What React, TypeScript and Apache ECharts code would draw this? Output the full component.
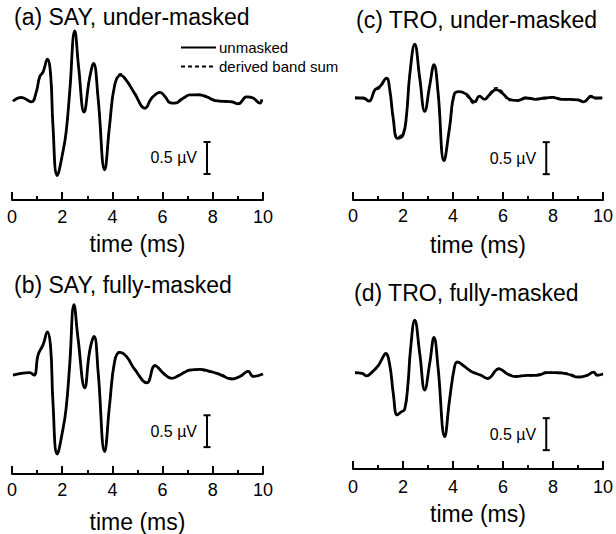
import React, { useEffect, useRef } from "react";
import * as echarts from "echarts";

// ---- waveform data (time in ms, amplitude in µV) ----
const timeSayUnder = [0.04, 0.37, 0.77, 0.97, 1.10, 1.24, 1.41, 1.54, 1.63, 1.80, 2.03, 2.16, 2.30, 2.50, 2.66, 2.87, 3.09, 3.25, 3.43, 3.69, 3.89, 4.09, 4.33, 4.55, 4.89, 5.30, 5.57, 5.90, 6.10, 6.29, 6.49, 6.83, 7.09, 7.42, 7.76, 8.09, 8.42, 8.75, 9.02, 9.35, 9.61, 9.88, 9.95];
const unmaskedSayUnder = [-0.02, 0.04, -0.03, 0.13, 0.36, 0.44, 0.64, 0.39, -0.39, -1.18, -0.81, -0.49, 0.13, 1.08, 0.49, -0.19, 0.34, 0.57, 0.03, -1.09, -0.39, 0.23, 0.39, 0.31, 0.10, -0.13, 0.03, 0.12, 0.05, -0.04, -0.05, 0.03, 0.08, 0.08, 0.05, -0.01, -0.02, -0.03, -0.06, 0.05, 0.03, -0.05, 0.01];
const derivedSayUnder = [-0.01, 0.03, -0.02, 0.12, 0.35, 0.45, 0.63, 0.38, -0.40, -1.17, -0.80, -0.48, 0.14, 1.07, 0.48, -0.18, 0.35, 0.56, 0.02, -1.08, -0.38, 0.24, 0.41, 0.32, 0.11, -0.12, 0.04, 0.11, 0.06, -0.05, -0.04, 0.04, 0.07, 0.09, 0.04, 0.00, -0.03, -0.02, -0.05, 0.06, 0.02, -0.04, 0.00];

const timeSayFull = [0.04, 0.37, 0.70, 0.88, 1.04, 1.24, 1.41, 1.54, 1.63, 1.80, 2.03, 2.16, 2.30, 2.47, 2.63, 2.90, 3.09, 3.27, 3.43, 3.69, 3.89, 4.09, 4.29, 4.55, 4.89, 5.37, 5.70, 6.03, 6.36, 6.76, 7.09, 7.49, 7.89, 8.29, 8.75, 9.08, 9.41, 9.61, 10.0];
const unmaskedSayFull = [-0.01, 0.02, 0.03, -0.01, 0.31, 0.47, 0.67, 0.42, -0.42, -1.25, -0.86, -0.52, 0.16, 1.10, 0.57, -0.21, 0.36, 0.60, 0.05, -1.21, -0.47, 0.21, 0.35, 0.29, 0.08, -0.13, 0.14, 0.02, -0.06, 0.01, 0.07, 0.08, 0.05, 0.00, -0.07, -0.03, 0.05, -0.03, 0.01];
const derivedSayFull = [-0.01, 0.02, 0.02, 0.00, 0.30, 0.48, 0.66, 0.41, -0.43, -1.24, -0.85, -0.51, 0.17, 1.09, 0.56, -0.20, 0.37, 0.59, 0.04, -1.20, -0.46, 0.22, 0.36, 0.28, 0.09, -0.12, 0.15, 0.03, -0.05, 0.02, 0.08, 0.07, 0.04, 0.01, -0.06, -0.04, 0.06, -0.02, 0.01];

const timeTroUnder = [0.08, 0.41, 0.64, 0.88, 1.08, 1.34, 1.47, 1.61, 1.78, 2.00, 2.14, 2.27, 2.47, 2.67, 2.87, 3.07, 3.24, 3.40, 3.64, 3.86, 4.06, 4.26, 4.53, 4.86, 5.06, 5.26, 5.46, 5.73, 5.99, 6.25, 6.59, 6.92, 7.32, 7.65, 7.98, 8.31, 8.65, 8.98, 9.24, 9.51, 9.71, 9.97];
const unmaskedTroUnder = [0.00, 0.00, -0.05, 0.13, 0.18, 0.31, 0.13, -0.32, -0.63, -0.58, -0.27, 0.36, 0.84, 0.31, -0.21, 0.20, 0.52, 0.10, -0.98, -0.47, 0.07, 0.10, 0.06, -0.06, 0.03, -0.02, 0.05, 0.13, 0.07, -0.02, -0.04, 0.00, -0.02, 0.00, 0.01, -0.02, -0.02, -0.03, -0.06, 0.02, 0.00, 0.00];
const derivedTroUnder = [0.01, -0.01, -0.04, 0.11, 0.16, 0.30, 0.12, -0.34, -0.61, -0.54, -0.25, 0.37, 0.83, 0.30, -0.19, 0.21, 0.51, 0.07, -0.97, -0.49, 0.05, 0.11, 0.04, -0.09, 0.02, -0.03, 0.07, 0.16, 0.09, -0.04, -0.03, 0.01, -0.01, -0.01, 0.02, -0.01, -0.03, -0.02, -0.05, 0.04, -0.01, 0.01];

const timeTroFull = [0.08, 0.35, 0.55, 0.74, 1.01, 1.14, 1.31, 1.47, 1.61, 1.77, 1.94, 2.07, 2.20, 2.30, 2.47, 2.67, 2.87, 3.07, 3.24, 3.40, 3.67, 3.86, 4.06, 4.17, 4.39, 4.73, 5.11, 5.38, 5.84, 6.18, 6.51, 6.97, 7.37, 7.77, 8.17, 8.57, 9.03, 9.36, 9.63, 9.76, 10.0];
const unmaskedTroFull = [0.02, 0.01, -0.03, 0.02, 0.13, 0.22, 0.32, 0.14, -0.30, -0.64, -0.59, -0.55, -0.15, 0.38, 0.84, 0.32, -0.25, 0.17, 0.57, 0.11, -0.98, -0.41, 0.11, 0.19, 0.14, 0.04, -0.02, -0.07, 0.08, 0.00, -0.04, -0.02, -0.02, 0.02, 0.02, 0.00, -0.05, -0.02, 0.03, -0.02, 0.00];
const derivedTroFull = [0.01, 0.02, -0.02, 0.03, 0.12, 0.23, 0.31, 0.13, -0.31, -0.63, -0.58, -0.54, -0.16, 0.37, 0.83, 0.31, -0.24, 0.18, 0.56, 0.10, -0.97, -0.42, 0.12, 0.18, 0.13, 0.05, -0.01, -0.06, 0.09, 0.01, -0.03, -0.03, -0.01, 0.03, 0.01, 0.01, -0.04, -0.03, 0.04, -0.01, 0.01];

// panel titles, in panel order (a), (b), (c), (d)
const panelTitles = ["(a) SAY, under-masked", "(b) SAY, fully-masked", "(c) TRO, under-masked", "(d) TRO, fully-masked"];
const xTicks = [0, 2, 4, 6, 8, 10];
const xAxisName = "time (ms)";
const seriesNames = ["unmasked", "derived band sum"];

// calibration bar: 0.5 µV, position (time, upper end) per panel
const scaleBarSize = 0.5;
const scaleBarLabel = "0.5 µV";
const scaleBarTime = [7.77, 7.77, 7.73, 7.73];
const scaleBarTop = [-0.656, -0.64, -0.69, -0.69];

const FONT = '"Liberation Sans", Arial, Helvetica, sans-serif';

export default function App() {
  const ref = useRef<HTMLDivElement>(null);

  useEffect(() => {
    if (!ref.current) return;
    const chart = echarts.init(ref.current, undefined, { renderer: "svg" });

    const times = [timeSayUnder, timeSayFull, timeTroUnder, timeTroFull];
    const unmasked = [unmaskedSayUnder, unmaskedSayFull, unmaskedTroUnder, unmaskedTroFull];
    const derived = [derivedSayUnder, derivedSayFull, derivedTroUnder, derivedTroFull];

    // layout per panel: left, top, height, y-range, label margin, name gap
    const layout = [
      { left: 12, top: 20, height: 180, yMin: -100 / 64, yMax: 1.25, margin: 8, nameGap: 32 },
      { left: 12, top: 295, height: 180, yMin: -100 / 64, yMax: 1.25, margin: 7, nameGap: 36 },
      { left: 353, top: 18, height: 182, yMin: -102 / 64, yMax: 1.25, margin: 7, nameGap: 33 },
      { left: 353, top: 294, height: 175, yMin: -95 / 64, yMax: 1.25, margin: 9, nameGap: 33 },
    ];
    const titleTops = [5, 273, 8, 281];
    const titleLefts = [14, 14, 356, 354];

    const grid = layout.map((l) => ({ left: l.left, top: l.top, width: 251, height: l.height, containLabel: false }));

    const xAxis = layout.map((l, i) => ({
      type: "value",
      gridIndex: i,
      min: 0,
      max: 10,
      interval: 2,
      axisLine: { show: true, onZero: false, lineStyle: { color: "#000", width: 2 } },
      axisTick: { show: true, inside: true, length: 8, lineStyle: { color: "#000", width: 2 } },
      minorTick: { show: true, splitNumber: 2, length: 4, lineStyle: { color: "#000", width: 2 } },
      splitLine: { show: false },
      axisLabel: {
        show: true,
        margin: l.margin,
        color: "#000",
        fontSize: 18,
        fontFamily: FONT,
        formatter: (v: number) => (xTicks.includes(v) ? String(v) : ""),
      },
      name: xAxisName,
      nameLocation: "middle",
      nameGap: l.nameGap,
      nameTextStyle: { color: "#000", fontSize: 23, fontFamily: FONT, verticalAlign: "top" },
    }));

    const yAxis = layout.map((l, i) => ({
      type: "value",
      gridIndex: i,
      min: l.yMin,
      max: l.yMax,
      show: false,
    }));

    const series: any[] = [];
    for (let i = 0; i < 4; i++) {
      series.push({
        type: "line",
        name: seriesNames[0],
        xAxisIndex: i,
        yAxisIndex: i,
        data: times[i].map((t, k) => [t, unmasked[i][k]]),
        symbol: "none",
        smooth: 0.45,
        lineStyle: { color: "#000", width: 2.8 },
        itemStyle: { color: "#000" },
        z: 2,
      });
      series.push({
        type: "line",
        name: seriesNames[1],
        xAxisIndex: i,
        yAxisIndex: i,
        data: times[i].map((t, k) => [t, derived[i][k]]),
        symbol: "none",
        smooth: 0.45,
        lineStyle: { color: "#000", width: 1.6, type: [4, 3] },
        itemStyle: { color: "#000" },
        z: 3,
      });
      series.push({
        type: "custom",
        name: "scale",
        xAxisIndex: i,
        yAxisIndex: i,
        coordinateSystem: "cartesian2d",
        clip: false,
        silent: true,
        data: [[scaleBarTime[i], scaleBarTop[i]]],
        renderItem: (params: any, api: any) => {
          const t = api.value(0);
          const top = api.value(1);
          const p1 = api.coord([t, top]);
          const p2 = api.coord([t, top - scaleBarSize]);
          const ls = { stroke: "#000", lineWidth: 2 };
          return {
            type: "group",
            children: [
              { type: "line", shape: { x1: p1[0], y1: p1[1], x2: p2[0], y2: p2[1] }, style: ls },
              { type: "line", shape: { x1: p1[0] - 3.5, y1: p1[1], x2: p1[0] + 3.5, y2: p1[1] }, style: ls },
              { type: "line", shape: { x1: p2[0] - 3.5, y1: p2[1], x2: p2[0] + 3.5, y2: p2[1] }, style: ls },
              {
                type: "text",
                style: {
                  text: scaleBarLabel,
                  x: p1[0] - 10,
                  y: (p1[1] + p2[1]) / 2,
                  align: "right",
                  verticalAlign: "middle",
                  fill: "#000",
                  font: `16px ${FONT}`,
                },
              },
            ],
          };
        },
      });
    }

    chart.setOption({
      animation: false,
      backgroundColor: "#fff",
      title: panelTitles.map((text, i) => ({
        text,
        left: titleLefts[i],
        top: titleTops[i],
        padding: 0,
        textStyle: { color: "#000", fontSize: 23, fontWeight: "normal", fontFamily: FONT },
      })),
      legend: {
        data: seriesNames,
        orient: "vertical",
        left: 180,
        top: 40,
        itemWidth: 35,
        itemHeight: 14,
        itemGap: 4,
        padding: 0,
        itemStyle: { opacity: 0 },
        textStyle: { color: "#000", fontSize: 15, fontFamily: FONT, padding: [0, 0, 0, -2] },
      },
      grid,
      xAxis,
      yAxis,
      series,
    });

    return () => chart.dispose();
  }, []);

  return (
    <div
      ref={ref}
      style={{ position: "absolute", left: 0, top: 0, width: 616, height: 534, background: "#fff" }}
    />
  );
}
